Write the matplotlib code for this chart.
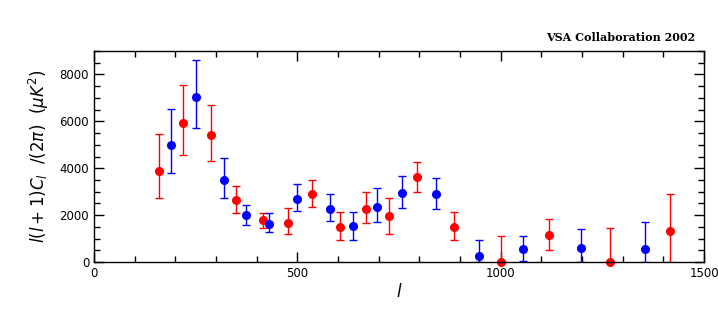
import numpy as np
from matplotlib import pyplot as plt
from matplotlib.ticker import MultipleLocator

# band powers, two interleaved binnings
l_red = [160, 220, 288, 349, 415, 478, 537, 605, 669, 725, 795, 886, 1001, 1118, 1270, 1417]
cl_red = [3880, 5910, 5400, 2640, 1780, 1670, 2880, 1480, 2270, 1950, 3620, 1500, 0, 1150, 0, 1340]
hi_red = [5450, 7550, 6690, 3235, 2110, 2295, 3490, 2125, 2980, 2720, 4260, 2125, 1100, 1825, 1440, 2890]
lo_red = [2710, 4560, 4300, 2080, 1440, 1200, 2340, 925, 1655, 1180, 2980, 925, 0, 500, 0, 0]

l_blue = [190, 252, 320, 375, 431, 500, 581, 638, 695, 758, 842, 947, 1056, 1197, 1356]
cl_blue = [4970, 7050, 3480, 1995, 1640, 2690, 2250, 1540, 2350, 2940, 2910, 240, 540, 610, 540]
hi_blue = [6530, 8620, 4430, 2420, 2080, 3320, 2890, 2125, 3150, 3665, 3580, 925, 1100, 1400, 1695]
lo_blue = [3790, 5715, 2720, 1570, 1270, 2165, 1740, 925, 1695, 2295, 2250, 0, 50, 0, 0]

fig = plt.figure(figsize=(7.18, 3.22), dpi=100)
ax = fig.add_axes([0.1309, 0.1863, 0.8496, 0.6553])

for ell, cl, hi, lo, col in [(l_red, cl_red, hi_red, lo_red, 'red'),
                             (l_blue, cl_blue, hi_blue, lo_blue, 'blue')]:
    cl = np.array(cl)
    yerr = [cl - np.array(lo), np.array(hi) - cl]
    eb = ax.errorbar(ell, cl, yerr=yerr, fmt='o', color=col, ecolor=col,
                     markersize=5.5, capsize=3, elinewidth=1, capthick=1)
    eb[0].set_clip_on(False)

ax.set_xlim(0, 1500)
ax.set_ylim(0, 9000)
ax.xaxis.set_major_locator(MultipleLocator(500))
ax.xaxis.set_minor_locator(MultipleLocator(100))
ax.yaxis.set_major_locator(MultipleLocator(2000))
ax.yaxis.set_minor_locator(MultipleLocator(500))
ax.tick_params(which='both', direction='in', top=True, right=True, labelsize=8.5)
ax.tick_params(which='major', length=7, width=1)
ax.tick_params(which='minor', length=4, width=1)
for s in ax.spines.values():
    s.set_linewidth(1)

ax.set_xlabel(r'$l$', fontsize=12, labelpad=2)
ax.set_ylabel(r'$l(l+1)C_l\ \ /(2\pi)\ \ (\mu K^2)$', fontsize=12, labelpad=6)
fig.text(0.968, 0.865, 'VSA Collaboration 2002', ha='right', va='bottom',
         family='DejaVu Serif', weight='bold', fontsize=8)

plt.savefig('out.png', dpi=100)
